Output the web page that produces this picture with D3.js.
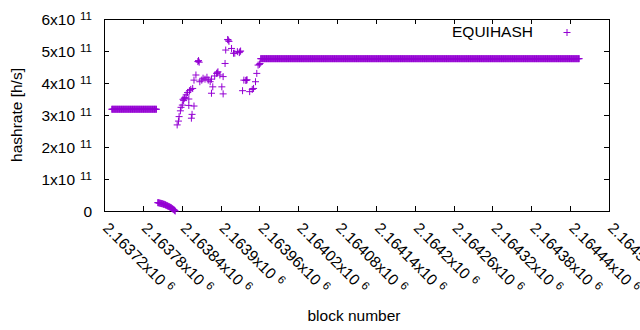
<!DOCTYPE html>
<html lang="en">
<head>
    <meta charset="UTF-8">
    <script src="https://cdn.jsdelivr.net/npm/d3@7"></script>
    <title>EQUIHASH hashrate</title>
    <style>
        html,
        body {
            margin: 0px;
            padding: 0px;
            background-color: #ffffff;
        }
        svg text {
            font-family: "Liberation Sans", Arial, sans-serif;
            fill: #000;
        }
    </style>
</head>
<body>
    <div id='chart'></div>
    <script>

        // constant stretches: block ranges with one value each
        const runFrom = [2163732, 2163962];
        const runTo = [2163801, 2164454];
        const runValue = [3.18e11, 4.76e11];

        // the short drop just after the first stretch (one value per block)
        const dropStart = 2163803;
        const dropValues = [0.26, 0.26, 0.25, 0.25, 0.24, 0.24, 0.23, 0.23, 0.22, 0.21,
            0.21, 0.20, 0.19, 0.18, 0.17, 0.16, 0.15, 0.14, 0.13, 0.12,
            0.11, 0.10, 0.08, 0.07, 0.05, 0.04, 0.02, 0.0].map(v => v * 1e11);

        // the noisy part in between
        const scatterBlocks = [2163833, 2163835, 2163836, 2163838, 2163839, 2163841, 2163842, 2163843,
            2163844, 2163845, 2163847, 2163849, 2163851, 2163852, 2163854, 2163857,
            2163855, 2163856, 2163859, 2163851, 2163859, 2163862, 2163865, 2163866,
            2163867, 2163868, 2163871, 2163873, 2163876, 2163879, 2163881, 2163884,
            2163886, 2163886, 2163888, 2163891, 2163894, 2163895, 2163896, 2163899,
            2163902, 2163904, 2163904, 2163907, 2163908, 2163911, 2163912, 2163913,
            2163917, 2163920, 2163922, 2163926, 2163929, 2163930, 2163931, 2163934,
            2163936, 2163939, 2163940, 2163941, 2163945, 2163949, 2163951, 2163954,
            2163956, 2163958, 2163960, 2163961];
        const scatterValues = [2.69, 2.81, 2.95, 3.13, 3.24, 3.31, 3.49, 3.45,
            3.52, 3.55, 3.63, 3.70, 3.50, 3.76, 3.80, 3.83,
            2.90, 3.02, 3.28, 3.30, 4.09, 4.25, 4.67, 4.70,
            4.65, 4.04, 4.09, 4.15, 4.12, 4.18, 4.09, 4.04,
            4.12, 3.68, 3.88, 4.22, 4.30, 4.32, 4.35, 4.25,
            3.88, 3.66, 4.20, 4.61, 5.03, 5.36, 5.34, 5.30,
            5.08, 4.93, 4.93, 4.98, 4.95, 4.98, 5.00, 3.76,
            4.09, 4.08, 4.09, 4.10, 3.73, 3.80, 3.83, 4.04,
            4.30, 4.56, 4.58, 4.61].map(v => v * 1e11);

        const xTickValues = [2163720, 2163780, 2163840, 2163900, 2163960, 2164020, 2164080,
            2164140, 2164200, 2164260, 2164320, 2164380, 2164440, 2164500];
        const xTickLabels = ['2.16372', '2.16378', '2.16384', '2.1639', '2.16396', '2.16402', '2.16408',
            '2.16414', '2.1642', '2.16426', '2.16432', '2.16438', '2.16444', '2.1645'];
        const yTickValues = [0, 1e11, 2e11, 3e11, 4e11, 5e11, 6e11];
        const yTickLabels = ['0', '1', '2', '3', '4', '5', '6'];

        let width = 640;
        let height = 330;
        let margin = {left: 104, right: 31, top: 19, bottom: 119};
        let color = '#9400d3';

        let points = [];
        runFrom.forEach((f, i) => {
            for (let b = f; b <= runTo[i]; b++) points.push([b, runValue[i]]);
        });
        dropValues.forEach((v, i) => points.push([dropStart + i, v]));
        scatterBlocks.forEach((b, i) => points.push([b, scatterValues[i]]));

        let svg = d3.select('#chart').append('svg').attr('width', width).attr('height', height);

        let x = d3.scaleLinear()
            .domain([2163720, 2164500])
            .range([margin.left, width - margin.right]);
        let y = d3.scaleLinear()
            .domain([0, 6e11])
            .range([height - margin.bottom, margin.top]);

        let x0 = x.range()[0], x1 = x.range()[1];
        let y0 = y.range()[0], y1 = y.range()[1];
        let tick = 5;

        // ticks on all four sides, pointing in
        let ticks = svg.append('g').attr('stroke', '#000').attr('stroke-width', 1);
        xTickValues.forEach(v => {
            let px = Math.round(x(v)) + 0.5;
            ticks.append('line').attr('x1', px).attr('x2', px).attr('y1', y0).attr('y2', y0 - tick);
            ticks.append('line').attr('x1', px).attr('x2', px).attr('y1', y1).attr('y2', y1 + tick);
        });
        yTickValues.forEach(v => {
            let py = Math.round(y(v)) + 0.5;
            ticks.append('line').attr('x1', x0).attr('x2', x0 + tick).attr('y1', py).attr('y2', py);
            ticks.append('line').attr('x1', x1).attr('x2', x1 - tick).attr('y1', py).attr('y2', py);
        });

        svg.append('rect')
            .attr('x', x0 + 0.5).attr('y', y1 + 0.5)
            .attr('width', x1 - x0).attr('height', y0 - y1)
            .attr('fill', 'none').attr('stroke', '#000').attr('stroke-width', 1);

        // y tick labels, "Nx10^11"
        yTickValues.forEach((v, i) => {
            let t = svg.append('text')
                .attr('x', 92).attr('y', y(v) + 5.5)
                .attr('text-anchor', 'end')
                .style('font-size', '15.5px');
            if (v === 0) {
                t.text('0');
            } else {
                t.append('tspan').text(yTickLabels[i] + 'x10');
                t.append('tspan').attr('dx', 5).attr('dy', -5).style('font-size', '11.5px').text('11');
            }
        });

        // x tick labels, rotated
        xTickValues.forEach((v, i) => {
            let t = svg.append('text')
                .attr('transform', `translate(${x(v) - 2},${229}) rotate(45)`)
                .attr('text-anchor', 'start')
                .style('font-size', '15.5px');
            t.append('tspan').text(xTickLabels[i] + 'x10');
            t.append('tspan').attr('dx', 5).attr('dy', -5).style('font-size', '11.5px').text('6');
        });

        // points drawn as "+"
        let r = 3.5;
        let marks = svg.append('g').attr('stroke', color).attr('stroke-width', 1).attr('fill', 'none');
        marks.selectAll('path')
            .data(points)
            .join('path')
            .attr('d', d => {
                let px = x(d[0]), py = y(d[1]);
                return `M${px - r},${py}H${px + r}M${px},${py - r}V${py + r}`;
            });

        // legend
        svg.append('text')
            .attr('x', 533).attr('y', 37)
            .attr('text-anchor', 'end')
            .style('font-size', '15.5px')
            .text('EQUIHASH');
        svg.append('path')
            .attr('d', `M${567 - r},32.5H${567 + r}M567,${32.5 - r}V${32.5 + r}`)
            .attr('stroke', color).attr('stroke-width', 1);

        // axis titles
        svg.append('text')
            .attr('transform', 'translate(22,115) rotate(-90)')
            .attr('text-anchor', 'middle')
            .style('font-size', '15.5px')
            .text('hashrate [h/s]');
        svg.append('text')
            .attr('x', 354).attr('y', 321)
            .attr('text-anchor', 'middle')
            .style('font-size', '15.5px')
            .text('block number');

    </script>
</body>
</html>
